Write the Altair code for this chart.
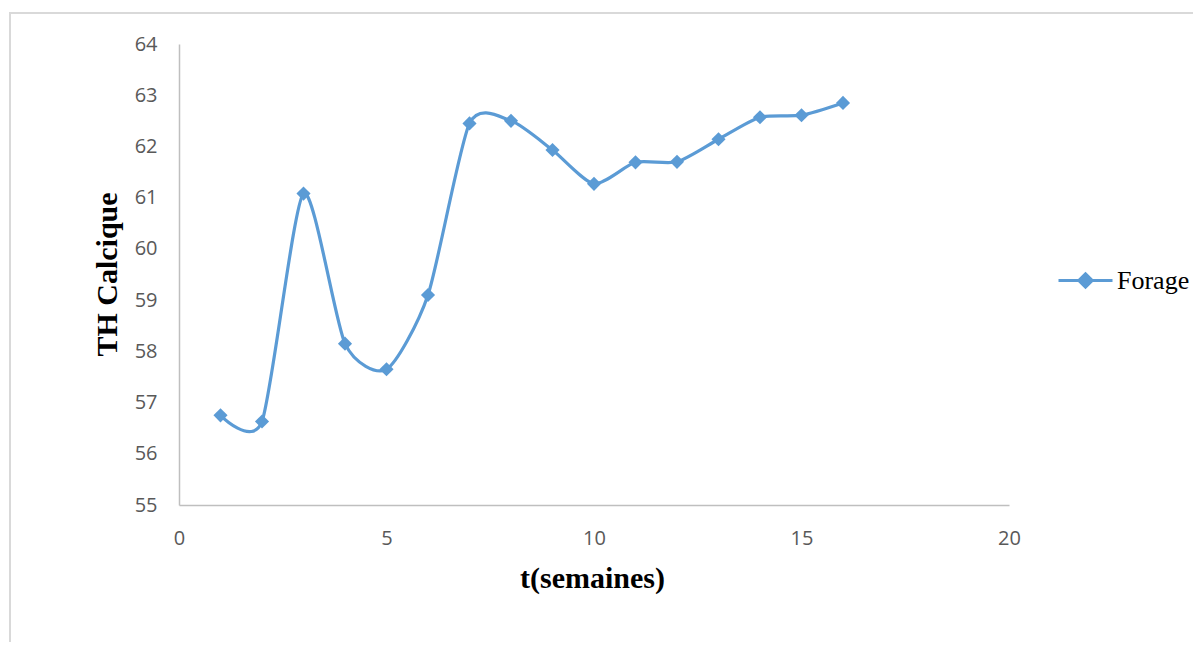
import altair as alt
import pandas as pd

weeks = [1, 2, 3, 4, 5, 6, 7, 8, 9, 10, 11, 12, 13, 14, 15, 16]
th_calcique = [56.75, 56.63, 61.08, 58.15, 57.65, 59.10, 62.45, 62.50,
               61.93, 61.27, 61.69, 61.70, 62.14, 62.57, 62.61, 62.85]
series_name = "Forage"
x_ticks = [0, 5, 10, 15, 20]
y_ticks = [55, 56, 57, 58, 59, 60, 61, 62, 63, 64]

df = pd.DataFrame({"t": weeks, "th": th_calcique, "serie": [series_name] * len(weeks)})

BLUE = "#5B9BD5"

x_enc = alt.X("t:Q", scale=alt.Scale(domain=[0, 20], nice=False),
              axis=alt.Axis(values=x_ticks, title="t(semaines)", ticks=False, grid=False,
                            labelFlush=False, labelOverlap=False,
                            domainColor="#BFBFBF", domainWidth=1.5,
                            labelFont="Open Sans", labelFontSize=20, labelColor="#595959",
                            labelPadding=33, labelBaseline="middle",
                            titleFont="Liberation Serif", titleFontSize=30, titleFontWeight="bold",
                            titleColor="#000000", titleX=413, titleY=82,
                            titleBaseline="alphabetic", titleAlign="center"))
y_enc = alt.Y("th:Q", scale=alt.Scale(domain=[55, 64], nice=False, zero=False),
              axis=alt.Axis(values=y_ticks, title="TH Calcique", ticks=False, grid=False,
                            labelFlush=False, labelOverlap=False,
                            domainColor="#BFBFBF", domainWidth=1.5,
                            labelFont="Open Sans", labelFontSize=20, labelColor="#595959",
                            labelPadding=22,
                            titleFont="Liberation Serif", titleFontSize=30, titleFontWeight="bold",
                            titleColor="#000000", titleX=-72, titleY=230, titleAngle=-90,
                            titleBaseline="middle", titleAlign="center"))

color_enc = alt.Color("serie:N", scale=alt.Scale(range=[BLUE]),
                      legend=alt.Legend(title=None, orient="none", legendX=878, legendY=208,
                                        symbolType="M-1,0L1,0M0,-0.25L0.25,0L0,0.25L-0.25,0Z",
                                        symbolSize=2916, symbolStrokeWidth=3,
                                        symbolFillColor=BLUE, symbolStrokeColor=BLUE,
                                        labelFont="Liberation Serif", labelFontSize=26,
                                        labelColor="#000000", labelOffset=3, padding=0))

border = alt.Chart(df).mark_rect(fill=None, stroke="#D9D9D9", strokeWidth=1.5).encode(
    x=alt.value(-169), x2=alt.value(1040), y=alt.value(-31), y2=alt.value(700))

line = alt.Chart(df).mark_line(interpolate="cardinal", tension=0.3, strokeWidth=3.2).encode(
    x=x_enc, y=y_enc, color=color_enc)

points = alt.Chart(df).mark_point(shape="diamond", filled=True, size=200, opacity=1).encode(
    x="t:Q", y="th:Q", color=alt.Color("serie:N", legend=None))

chart = alt.layer(border, line, points).properties(
    width=830, height=461,
    autosize=alt.AutoSizeParams(type="none"),
    padding={"left": 171, "top": 36, "right": 184, "bottom": 137},
).configure(background="#FFFFFF").configure_view(strokeWidth=0)

chart.save("out.html", embed_options={"renderer": "svg", "actions": False})
